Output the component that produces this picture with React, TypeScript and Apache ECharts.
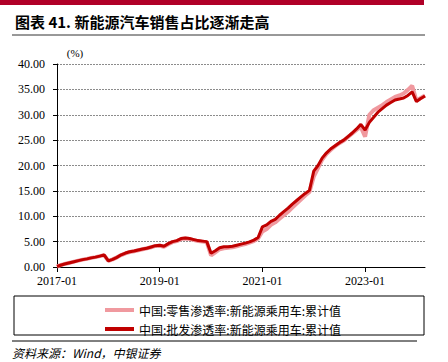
import React, { useEffect, useRef } from "react";
import * as echarts from "echarts";

const START_YEAR = 2017;
const MONTH_COUNT = 87; // 2017-01 .. 2024-03
const months: string[] = [];
for (let i = 0; i < MONTH_COUNT; i++) {
  const y = START_YEAR + Math.floor(i / 12);
  const m = (i % 12) + 1;
  months.push(`${y}-${m < 10 ? "0" + m : m}`);
}

const retailName = "中国:零售渗透率:新能源乘用车:累计值";
const wholesaleName = "中国:批发渗透率:新能源乘用车:累计值";

// 中国:零售渗透率:新能源乘用车:累计值 (%)
const retail: number[] = [
  0.1, 0.4, 0.65, 0.85, 1.05, 1.25, 1.45, 1.6, 1.8, 1.95, 2.15, 2.35,
  1.2, 1.5, 1.9, 2.35, 2.7, 2.95, 3.1, 3.3, 3.5, 3.7, 3.9, 4.15,
  4.2, 4.0, 4.5, 4.9, 5.1, 5.5, 5.6, 5.5, 5.3, 5.1, 5.0, 4.9,
  2.3, 2.9, 3.5, 3.7, 3.8, 3.9, 4.1, 4.3, 4.5, 4.8, 5.1, 5.6,
  7.0, 7.5, 8.3, 8.8, 9.5, 10.2, 10.9, 11.7, 12.5, 13.3, 14.1, 14.8,
  17.8, 19.5, 21.2, 22.3, 23.1, 23.8, 24.4, 24.9, 25.6, 26.3, 27.0, 27.6,
  25.7, 30.0, 30.9, 31.4, 31.9, 32.5, 33.0, 33.5, 33.8, 34.2, 34.9, 35.7,
  32.8, 33.3, 33.8,
];

// 中国:批发渗透率:新能源乘用车:累计值 (%)
const wholesale: number[] = [
  0.1, 0.4, 0.65, 0.85, 1.05, 1.25, 1.45, 1.6, 1.8, 1.95, 2.15, 2.4,
  1.2, 1.5, 1.9, 2.4, 2.75, 3.0, 3.15, 3.35, 3.55, 3.7, 3.95, 4.2,
  4.3, 4.1, 4.6, 5.0, 5.2, 5.6, 5.7, 5.6, 5.4, 5.2, 5.1, 5.0,
  2.7, 3.2, 3.8, 4.0, 4.0, 4.1, 4.3, 4.5, 4.7, 4.95, 5.3, 5.8,
  7.9, 8.3, 9.0, 9.4, 10.2, 10.9, 11.6, 12.4, 13.1, 13.8, 14.5, 15.1,
  18.9, 20.0, 21.5, 22.5, 23.3, 23.9, 24.5, 25.0, 25.7, 26.4, 27.2, 28.1,
  27.0, 28.5, 29.5, 30.5, 31.2, 31.9, 32.4, 32.9, 33.1, 33.3, 33.8, 34.5,
  32.6, 33.2, 33.7,
];

const yTickDecimals = 2;

const serif = "'Liberation Serif', 'Times New Roman', serif";
const cjk = "'Noto Sans CJK SC', sans-serif";

export default function App() {
  const ref = useRef<HTMLDivElement>(null);
  useEffect(() => {
    if (!ref.current) return;
    document.body.style.margin = "0";
    const chart = echarts.init(ref.current, undefined, { renderer: "svg" });
    chart.setOption({
      animation: false,
      backgroundColor: "#fff",
      grid: { left: 57, right: 23, top: 64, bottom: 95 },
      xAxis: {
        type: "category",
        data: months,
        boundaryGap: false,
        axisLine: { lineStyle: { color: "#000", width: 1 } },
        axisTick: { show: true, interval: 23, length: 5, lineStyle: { color: "#000" } },
        axisLabel: {
          interval: 23,
          color: "#000",
          fontFamily: serif,
          fontSize: 12,
          margin: 8,
        },
        splitLine: { show: false },
      },
      yAxis: {
        type: "value",
        min: 0,
        max: 40,
        interval: 5,
        axisLine: { show: true, lineStyle: { color: "#000", width: 1 } },
        axisTick: { show: true, length: 4, lineStyle: { color: "#000" } },
        axisLabel: {
          color: "#000",
          fontFamily: serif,
          fontSize: 12,
          margin: 12,
          formatter: (v: number) => v.toFixed(yTickDecimals),
        },
        splitLine: { show: true, lineStyle: { color: "#8c8c8c", type: [2, 1], width: 1 } },
      },
      legend: {
        orient: "vertical",
        left: 100,
        top: 299,
        itemWidth: 29,
        itemHeight: 4,
        itemGap: 7,
        icon: "rect",
        textStyle: { fontFamily: cjk, fontSize: 12, color: "#000" },
        data: [retailName, wholesaleName],
      },
      series: [
        {
          name: retailName,
          type: "line",
          data: retail,
          symbol: "none",
          color: "#F0999F",
          lineStyle: { color: "#F0999F", width: 4 },
        },
        {
          name: wholesaleName,
          type: "line",
          data: wholesale,
          symbol: "none",
          color: "#C00000",
          lineStyle: { color: "#C00000", width: 3 },
        },
      ],
      graphic: [
        { type: "rect", shape: { x: 0, y: 0, width: 424, height: 5 }, style: { fill: "#B00028" } },
        {
          type: "text",
          x: 15,
          y: 21,
          style: {
            text: "图表 41. 新能源汽车销售占比逐渐走高",
            font: `bold 15px ${cjk}`,
            fill: "#000",
            textVerticalAlign: "middle",
          },
        },
        { type: "line", shape: { x1: 12, y1: 35, x2: 425, y2: 35 }, style: { stroke: "#333", lineWidth: 1 } },
        {
          type: "text",
          x: 75,
          y: 53,
          style: {
            text: "(%)",
            font: `11px ${serif}`,
            fill: "#000",
            textAlign: "center",
            textVerticalAlign: "middle",
          },
        },
        {
          type: "rect",
          shape: { x: 14, y: 296, width: 410, height: 39 },
          style: { fill: "none", stroke: "#000", lineWidth: 1 },
        },
        { type: "line", shape: { x1: 12, y1: 341, x2: 417, y2: 341 }, style: { stroke: "#000", lineWidth: 1 } },
        {
          type: "text",
          x: 12,
          y: 352,
          style: {
            text: "资料来源：Wind，中银证券",
            font: `italic 12px ${cjk}`,
            fill: "#000",
            textVerticalAlign: "middle",
          },
        },
      ],
    });
    return () => chart.dispose();
  }, []);
  return <div ref={ref} style={{ width: 448, height: 362 }} />;
}
